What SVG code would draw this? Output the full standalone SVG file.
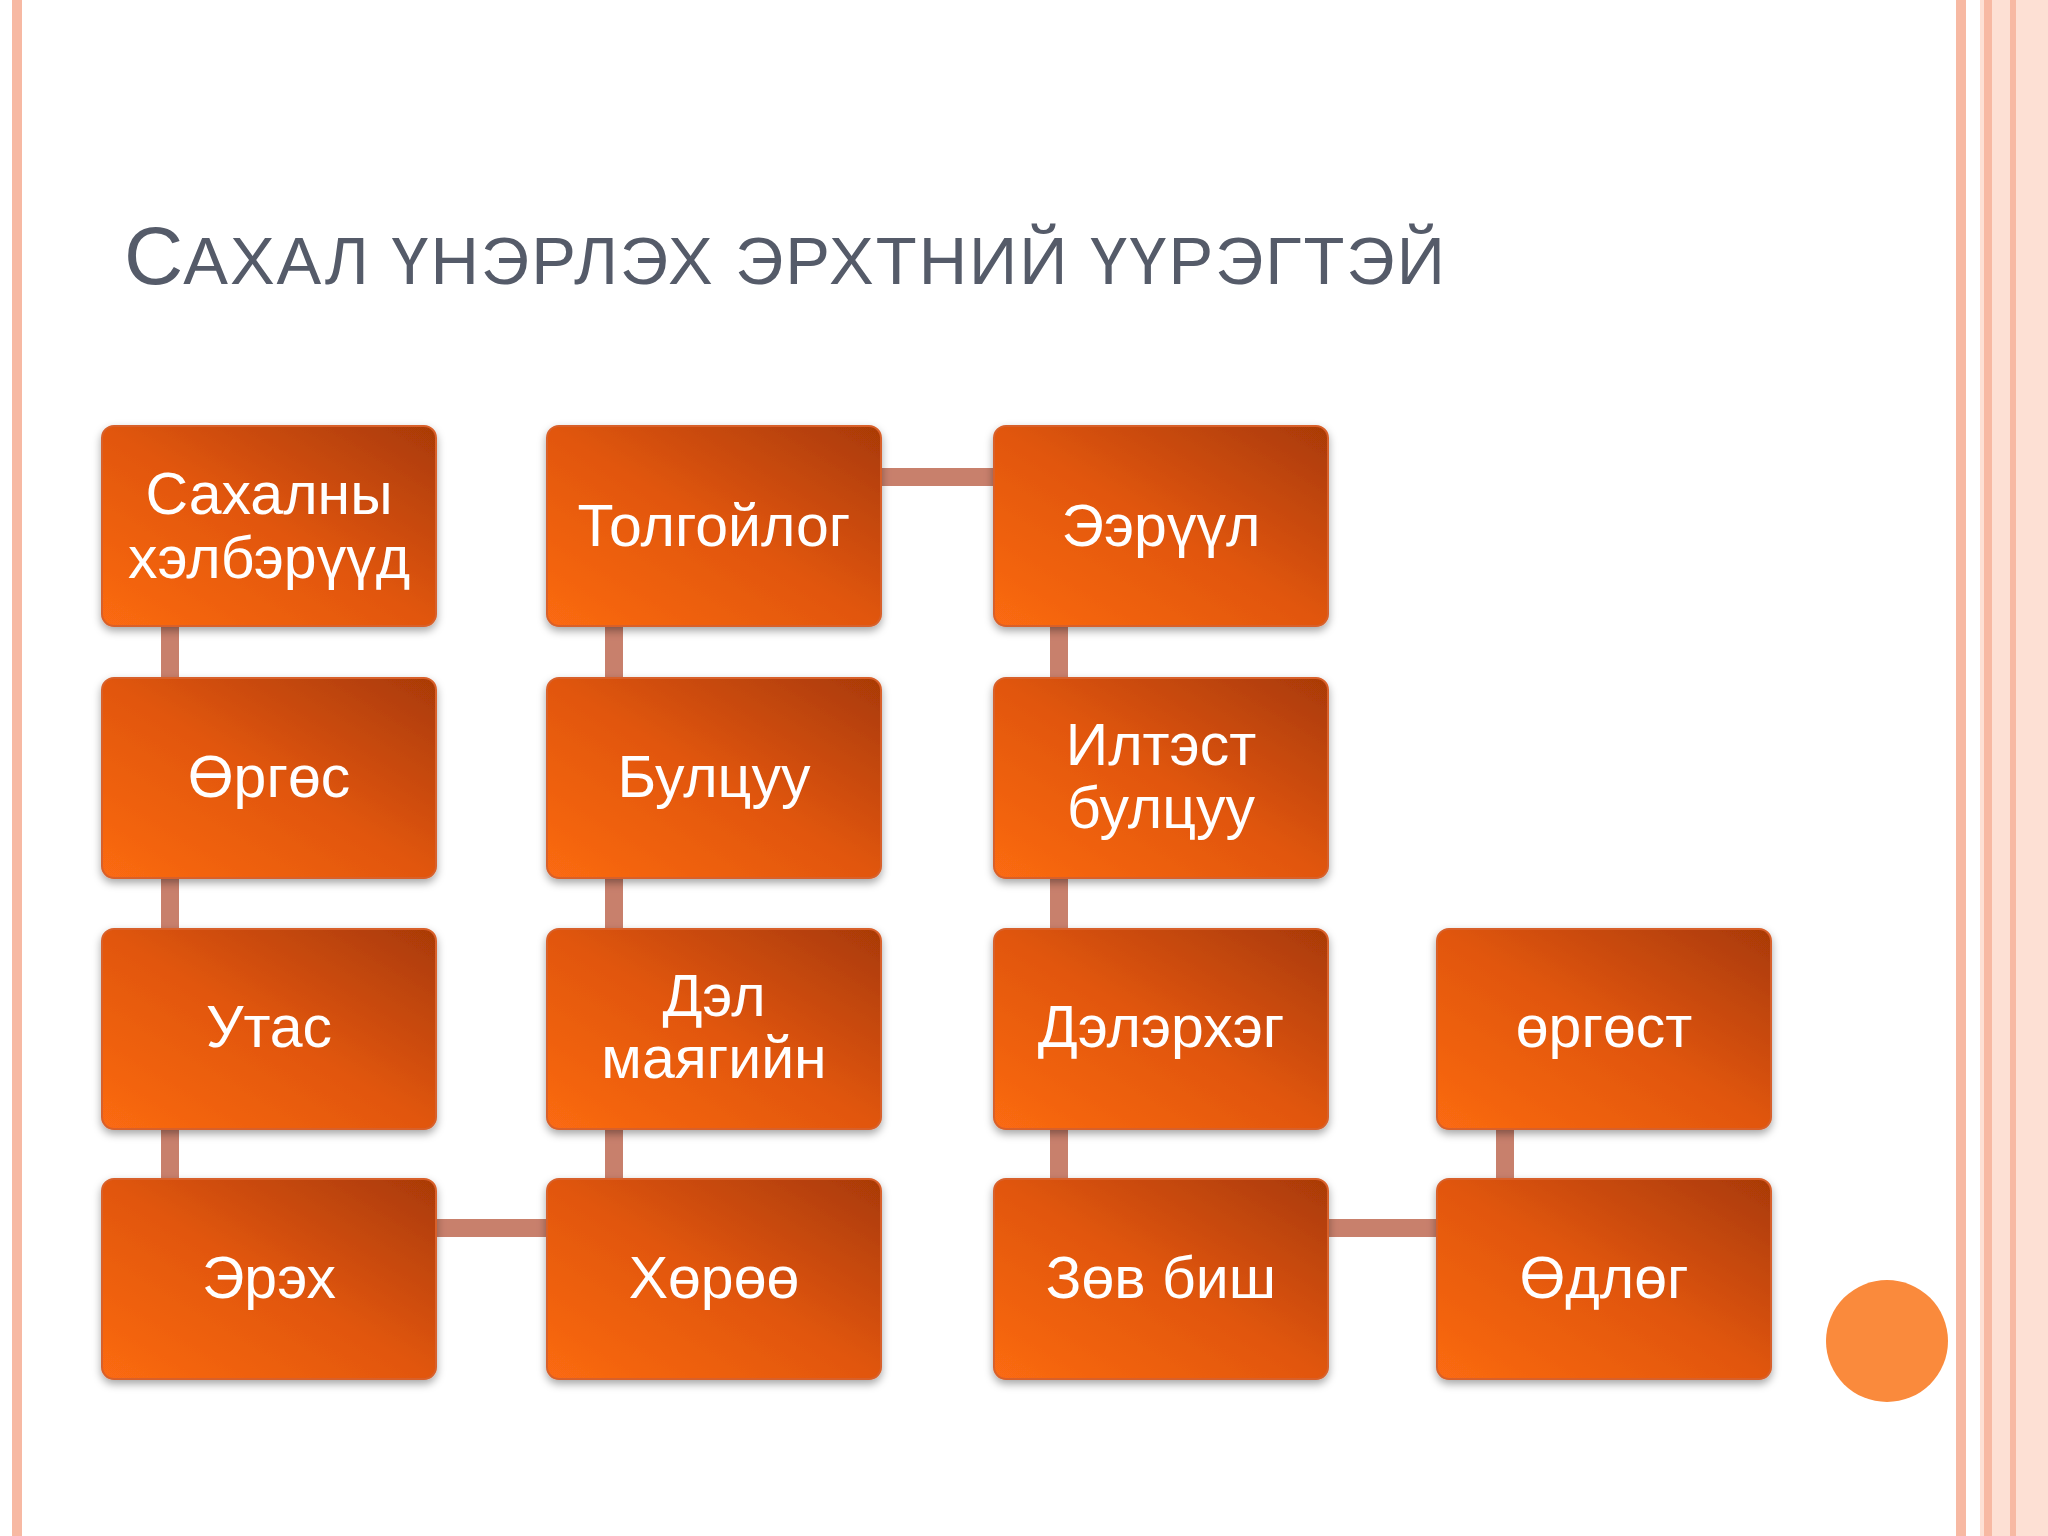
<svg xmlns="http://www.w3.org/2000/svg" width="2048" height="1536" viewBox="0 0 2048 1536">
<defs>
<linearGradient id="g" x1="0" y1="1" x2="1" y2="0">
<stop offset="0" stop-color="#fb6a12"/><stop offset="0.5" stop-color="#e1560c"/><stop offset="1" stop-color="#a93a06"/>
</linearGradient>
<filter id="sh" x="-10%" y="-10%" width="120%" height="125%"><feDropShadow dx="0" dy="4" stdDeviation="4" flood-color="#000" flood-opacity="0.35"/></filter>
</defs>
<style>
.b{fill:url(#g);stroke:#d8602a;stroke-width:2;filter:url(#sh)}
.t{font-family:"Liberation Sans",Arial,sans-serif;font-size:59px;fill:#fff;text-anchor:middle}
.c{stroke:#c8806c;stroke-width:18;fill:none}
.ti{font-family:"Liberation Sans",Arial,sans-serif;fill:#555b69}
</style>
<rect width="2048" height="1536" fill="#fff"/>
<rect x="12" y="0" width="10" height="1536" fill="#f7b9a3"/>
<rect x="1956" y="0" width="10" height="1536" fill="#f7b9a3"/>
<rect x="1980" y="0" width="68" height="1536" fill="#fde0d4"/>
<rect x="1984" y="0" width="8" height="1536" fill="#f7b9a3"/>
<rect x="2010" y="0" width="6" height="1536" fill="#f7b9a3"/>
<text class="ti" x="124" y="284" font-size="82">С<tspan font-size="67" letter-spacing="2">АХАЛ ҮНЭРЛЭХ ЭРХТНИЙ ҮҮРЭГТЭЙ</tspan></text>
<g id="connectors">
<line class="c" x1="170" y1="620" x2="170" y2="1190"/>
<line class="c" x1="614" y1="620" x2="614" y2="1190"/>
<line class="c" x1="1059" y1="620" x2="1059" y2="1190"/>
<line class="c" x1="1505" y1="1120" x2="1505" y2="1190"/>
<line class="c" x1="870" y1="477" x2="1000" y2="477"/>
<line class="c" x1="430" y1="1228" x2="555" y2="1228"/>
<line class="c" x1="1320" y1="1228" x2="1445" y2="1228"/>
</g>
<g id="n1"><rect class="b" x="102" y="426" width="334" height="200" rx="12"/><text class="t" x="269" y="514">Сахалны</text><text class="t" x="269" y="578">хэлбэрүүд</text></g>
<g id="n2"><rect class="b" x="547" y="426" width="334" height="200" rx="12"/><text class="t" x="714" y="546">Толгойлог</text></g>
<g id="n3"><rect class="b" x="994" y="426" width="334" height="200" rx="12"/><text class="t" x="1161" y="546">Ээрүүл</text></g>
<g id="n4"><rect class="b" x="102" y="678" width="334" height="200" rx="12"/><text class="t" x="269" y="797">Өргөс</text></g>
<g id="n5"><rect class="b" x="547" y="678" width="334" height="200" rx="12"/><text class="t" x="714" y="797">Булцуу</text></g>
<g id="n6"><rect class="b" x="994" y="678" width="334" height="200" rx="12"/><text class="t" x="1161" y="765">Илтэст</text><text class="t" x="1161" y="828">булцуу</text></g>
<g id="n7"><rect class="b" x="102" y="929" width="334" height="200" rx="12"/><text class="t" x="269" y="1047">Утас</text></g>
<g id="n8"><rect class="b" x="547" y="929" width="334" height="200" rx="12"/><text class="t" x="714" y="1016">Дэл</text><text class="t" x="714" y="1078">маягийн</text></g>
<g id="n9"><rect class="b" x="994" y="929" width="334" height="200" rx="12"/><text class="t" x="1161" y="1047">Дэлэрхэг</text></g>
<g id="n10"><rect class="b" x="1437" y="929" width="334" height="200" rx="12"/><text class="t" x="1604" y="1047">өргөст</text></g>
<g id="n11"><rect class="b" x="102" y="1179" width="334" height="200" rx="12"/><text class="t" x="269" y="1298">Эрэх</text></g>
<g id="n12"><rect class="b" x="547" y="1179" width="334" height="200" rx="12"/><text class="t" x="714" y="1298">Хөрөө</text></g>
<g id="n13"><rect class="b" x="994" y="1179" width="334" height="200" rx="12"/><text class="t" x="1161" y="1298">Зөв биш</text></g>
<g id="n14"><rect class="b" x="1437" y="1179" width="334" height="200" rx="12"/><text class="t" x="1604" y="1298">Өдлөг</text></g>
<circle cx="1887" cy="1341" r="61" fill="#fa8a3c"/>
</svg>
